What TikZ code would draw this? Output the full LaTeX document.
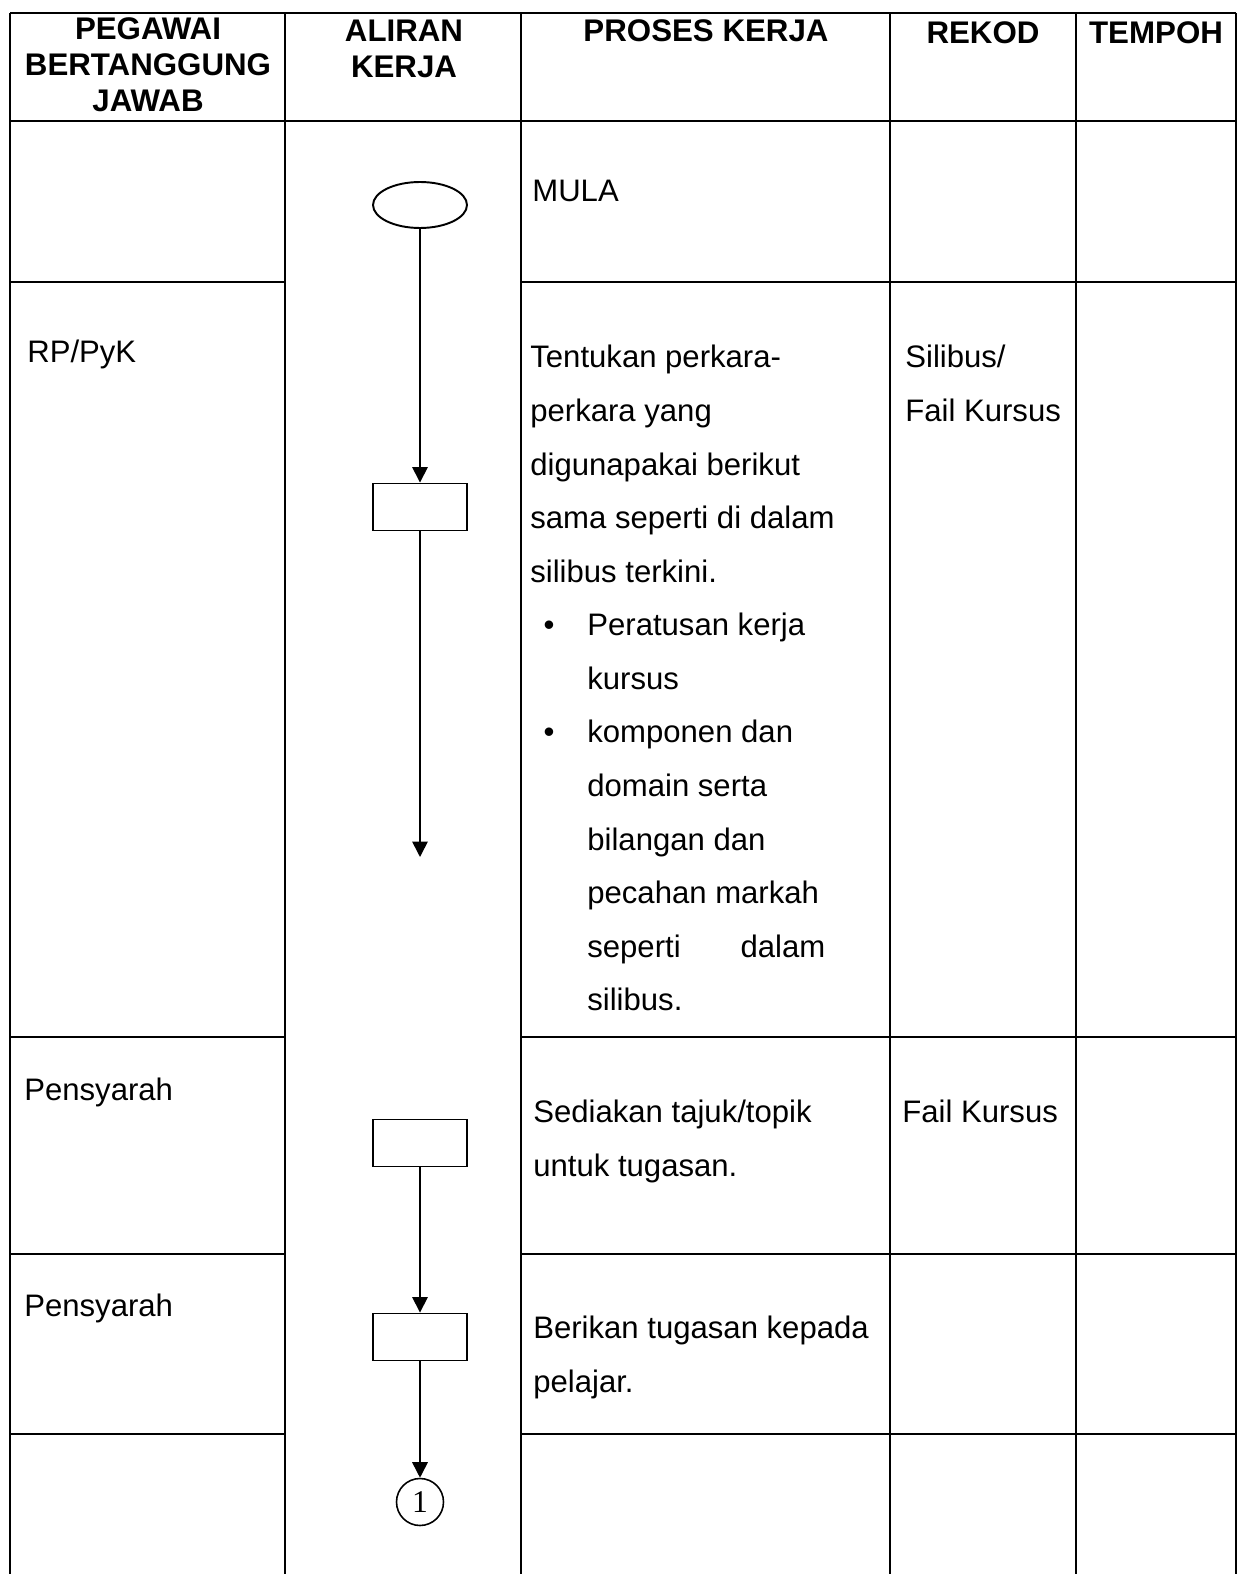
\documentclass[tikz,border=0pt]{standalone}
\usepackage{fontspec}
\setmainfont{Liberation Sans}
\newfontfamily\nomborfont{Liberation Serif}
\usetikzlibrary{shapes.geometric, arrows.meta}

\tikzset{
  garis/.style={line width=1.1pt},
  tajuk/.style={anchor=north, inner sep=0pt, align=center,
    font=\fontsize{17.8}{20.5}\selectfont\bfseries},
  teks/.style={anchor=north west, inner sep=0pt, align=left,
    font=\fontsize{17.7}{30.5}\selectfont},
  titik/.style={anchor=base, inner sep=0pt, font=\fontsize{17.7}{30.5}\selectfont},
  kotak/.style={draw, line width=1.1pt, minimum width=1.88cm,
    minimum height=0.94cm, inner sep=0pt},
  aliran/.style={->, line width=0.9pt}
}

\begin{document}
\begin{tikzpicture}[x=0.02cm, y=-0.02cm, >={Triangle[length=0.31cm, width=0.31cm]}]
    \useasboundingbox (0, 0) rectangle (1243, 1574);
    \clip (0, 0) rectangle (1243, 1574);

    % 1. Jadual
    \draw[garis] (10, 13) -- (1236, 13);
    \draw[garis] (10, 121) -- (1236, 121);
    \foreach \x in {10, 285, 521, 890, 1076, 1236}
        \draw[garis] (\x, 13) -- (\x, 1574);
    % garis baris (tiada dalam lajur aliran kerja)
    \foreach \y in {282, 1037, 1254, 1434} {
        \draw[garis] (10, \y) -- (285, \y);
        \draw[garis] (521, \y) -- (1236, \y);
    }

    % 2. Tajuk lajur
    \node[tajuk] (hPegawai) at (148, 17) {PEGAWAI\\BERTANGGUNG\\JAWAB};
    \node[tajuk] (hAliran) at (404, 20) {ALIRAN\\KERJA};
    \node[tajuk] (hProses) at (706, 19) {PROSES KERJA};
    \node[tajuk] (hRekod) at (983, 21) {REKOD};
    \node[tajuk] (hTempoh) at (1156, 21) {TEMPOH};

    % 3. Pegawai
    \node[teks] (pRP) at (27, 340) {RP/PyK};
    \node[teks] (pSyarah1) at (24, 1078) {Pensyarah};
    \node[teks] (pSyarah2) at (24, 1294) {Pensyarah};

    % 4. Proses kerja
    \node[teks] (kMula) at (532, 180) {MULA};
    \node[teks] (kTentu) at (530, 345) {Tentukan perkara-\\perkara yang\\digunapakai berikut\\sama seperti di dalam\\silibus terkini.};
    \node[titik] (b1) at (549, 635) {\textbullet};
    \node[teks] (kPeratus) at (587, 613) {Peratusan kerja\\kursus};
    \node[titik] (b2) at (549, 742) {\textbullet};
    \node[teks] (kKomponen) at (587, 720) {komponen dan\\domain serta\\bilangan dan\\pecahan markah\\\makebox[4.76cm][s]{seperti dalam}\\silibus.};
    \node[teks] (kSedia) at (533, 1100) {Sediakan tajuk/topik\\untuk tugasan.};
    \node[teks] (kBeri) at (533, 1316) {Berikan tugasan kepada\\pelajar.};

    % 5. Rekod
    \node[teks] (rSilibus) at (905, 345) {Silibus/\\Fail Kursus};
    \node[teks] (rFail) at (902, 1100) {Fail Kursus};

    % 6. Carta aliran
    \node[draw, ellipse, line width=1.1pt, minimum width=1.88cm,
        minimum height=0.92cm, inner sep=0pt] (mula) at (420, 205) {};
    \node[kotak] (k1) at (420, 507) {};
    \coordinate (hujung) at (420, 857);
    \node[kotak] (k2) at (420, 1143) {};
    \node[kotak] (k3) at (420, 1337) {};
    \node[draw, circle, line width=0.9pt, minimum size=0.94cm, inner sep=0pt,
        font=\nomborfont\fontsize{18}{18}\selectfont] (sambung) at (420, 1502) {1};

    \draw[aliran] (mula) -- (k1);
    \draw[aliran] (k1) -- (hujung);
    \draw[aliran] (k2) -- (k3.north);
    \draw[aliran] (k3) -- (sambung);
\end{tikzpicture}
\end{document}
